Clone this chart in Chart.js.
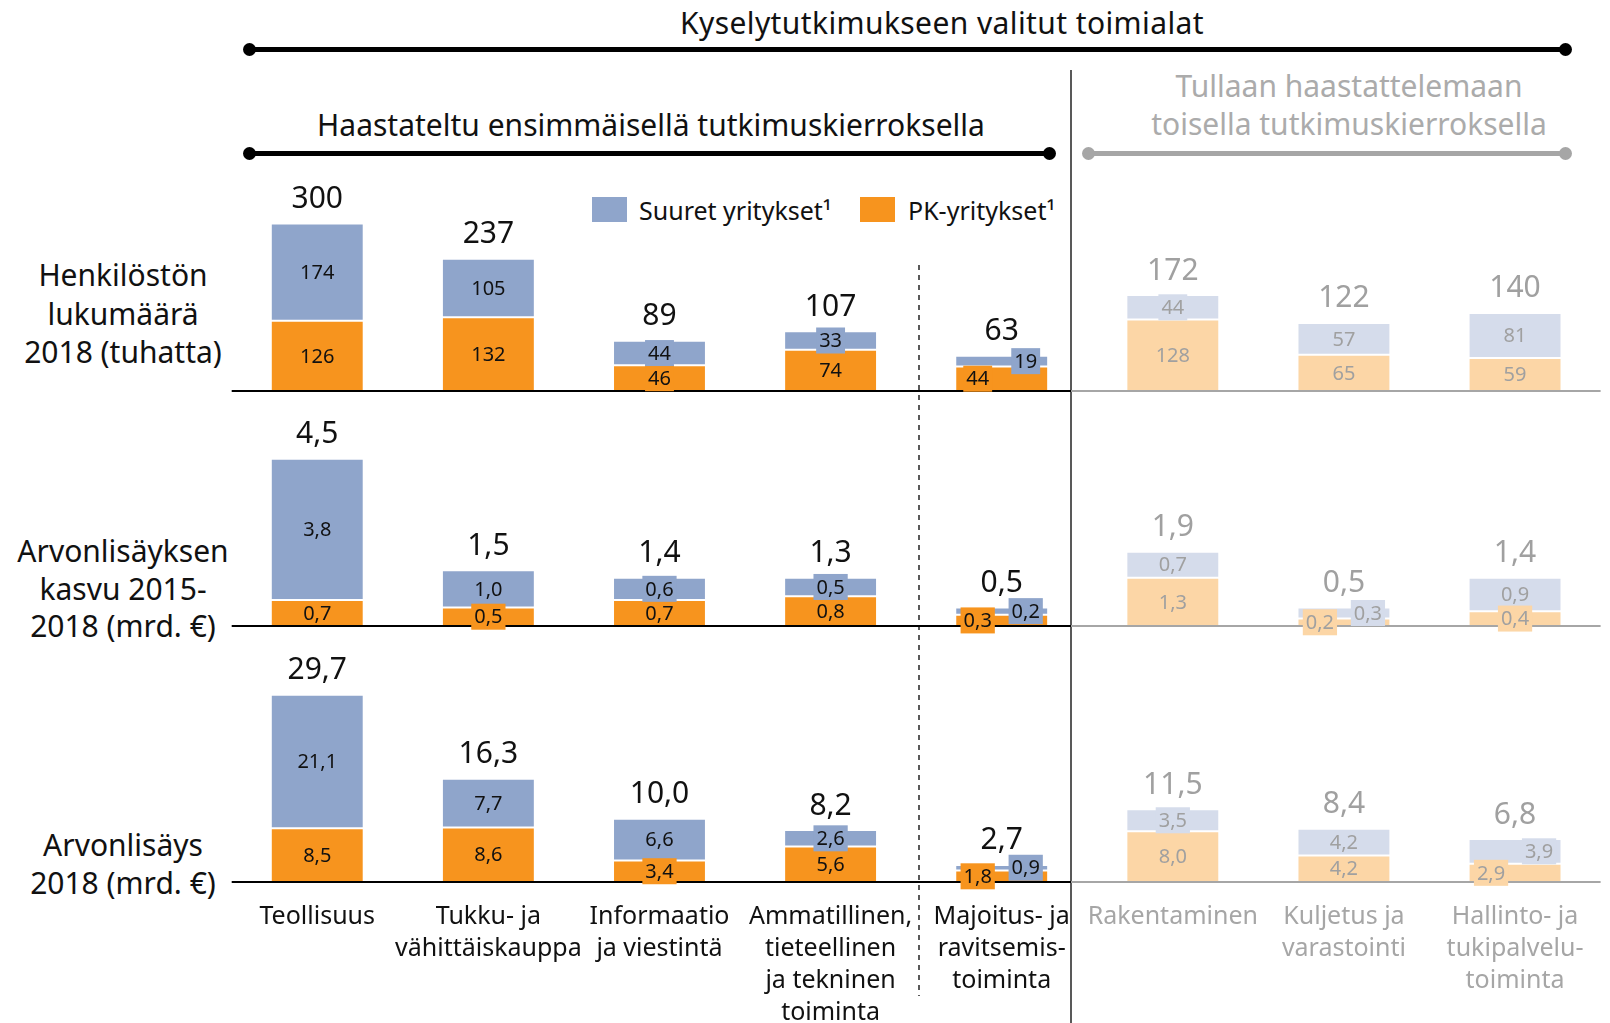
<!DOCTYPE html>
<html><head><meta charset="utf-8">
<script src="https://cdn.jsdelivr.net/npm/chart.js@4"></script>
<style>
html,body{margin:0;padding:0;background:#fff;}
body{width:1610px;height:1023px;position:relative;overflow:hidden;font-family:"Noto Sans",sans-serif;color:#111;}
canvas{position:absolute;left:0;}
.t{position:absolute;text-align:center;white-space:nowrap;}
.hl{position:absolute;height:5px;}
.dot{position:absolute;width:13px;height:13px;border-radius:50%;}
.sq{position:absolute;width:35px;height:25px;}
</style>
</head><body>
<div class="t" style="left:542px;width:800px;top:3px;font-size:30px;line-height:40px;letter-spacing:0.4px;">Kyselytutkimukseen valitut toimialat</div>
<div class="hl" style="left:250px;width:1315px;top:46.5px;background:#000;"></div>
<div class="dot" style="left:243px;top:42.5px;background:#000;"></div>
<div class="dot" style="left:1558.5px;top:42.5px;background:#000;"></div>

<div class="t" style="left:251px;width:800px;top:105px;font-size:30px;line-height:40px;">Haastateltu ensimmäisellä tutkimuskierroksella</div>
<div class="hl" style="left:250px;width:799px;top:150.5px;background:#000;"></div>
<div class="dot" style="left:243px;top:146.5px;background:#000;"></div>
<div class="dot" style="left:1042.5px;top:146.5px;background:#000;"></div>

<div class="t" style="left:1149px;width:400px;top:67px;font-size:30px;line-height:38px;color:#ABABAB;">Tullaan haastattelemaan<br>toisella tutkimuskierroksella</div>
<div class="hl" style="left:1088px;width:477px;top:150.5px;background:#A6A6A6;"></div>
<div class="dot" style="left:1081.5px;top:146.5px;background:#A6A6A6;"></div>
<div class="dot" style="left:1558.5px;top:146.5px;background:#A6A6A6;"></div>

<div style="position:absolute;left:1070px;top:70px;width:2px;height:953px;background:#595959;"></div>
<div style="position:absolute;left:918px;top:265px;width:2px;height:731px;background:repeating-linear-gradient(to bottom,#595959 0 5px,transparent 5px 10px);"></div>

<div class="sq" style="left:592px;top:197px;background:#8FA5CB;"></div>
<div class="t" style="left:639px;top:193px;font-size:25px;line-height:34px;text-align:left;">Suuret yritykset¹</div>
<div class="sq" style="left:860px;top:197px;background:#F7941E;"></div>
<div class="t" style="left:908px;top:193px;font-size:25px;line-height:34px;text-align:left;">PK-yritykset¹</div>

<div class="t" style="left:3px;width:240px;top:256px;font-size:30px;line-height:38.5px;">Henkilöstön<br>lukumäärä<br>2018 (tuhatta)</div>
<div class="t" style="left:3px;width:240px;top:532px;font-size:30px;line-height:37.5px;">Arvonlisäyksen<br>kasvu 2015-<br>2018 (mrd. €)</div>
<div class="t" style="left:3px;width:240px;top:826px;font-size:30px;line-height:38px;">Arvonlisäys<br>2018 (mrd. €)</div>

<canvas id="c1" width="1610" height="246" style="top:160px"></canvas>
<canvas id="c2" width="1610" height="241" style="top:400px"></canvas>
<canvas id="c3" width="1610" height="383" style="top:640px"></canvas>

<script>
const categories = [
  "Teollisuus",
  ["Tukku- ja", "vähittäiskauppa"],
  ["Informaatio", "ja viestintä"],
  ["Ammatillinen,", "tieteellinen", "ja tekninen", "toiminta"],
  ["Majoitus- ja", "ravitsemis-", "toiminta"],
  "Rakentaminen",
  ["Kuljetus ja", "varastointi"],
  ["Hallinto- ja", "tukipalvelu-", "toiminta"]
];
const henkPK      = [126, 132, 46, 74, 44, 128, 65, 59];
const henkSuuret  = [174, 105, 44, 33, 19, 44, 57, 81];
const henkTotal   = [300, 237, 89, 107, 63, 172, 122, 140];
const kasvuPK     = [0.7, 0.5, 0.7, 0.8, 0.3, 1.3, 0.2, 0.4];
const kasvuSuuret = [3.8, 1.0, 0.6, 0.5, 0.2, 0.7, 0.3, 0.9];
const kasvuTotal  = [4.5, 1.5, 1.4, 1.3, 0.5, 1.9, 0.5, 1.4];
const avPK        = [8.5, 8.6, 3.4, 5.6, 1.8, 8.0, 4.2, 2.9];
const avSuuret    = [21.1, 7.7, 6.6, 2.6, 0.9, 3.5, 4.2, 3.9];
const avTotal     = [29.7, 16.3, 10.0, 8.2, 2.7, 11.5, 8.4, 6.8];

const FIRST_ROUND = 5;          // categories before this index are in the first round
const SEP_X = 1071;
const C_OR = '#F7941E', C_OR_L = '#FCD6A6', C_BL = '#8FA5CB', C_BL_L = '#D5DCEB';
const TXT = '#111111', TXT_L = '#A0A0A0';

Chart.defaults.font.family = "'Noto Sans', sans-serif";

const annot = {
  id: 'annot',
  afterDatasetsDraw(chart) {
    const o = chart.options.plugins.annot;
    const ctx = chart.ctx, ca = chart.chartArea;
    const y0 = chart.scales.y.getPixelForValue(0);
    ctx.save();
    ctx.fillStyle = '#000';
    ctx.fillRect(ca.left, y0 - 1, SEP_X - ca.left, 2);
    ctx.fillStyle = '#A6A6A6';
    ctx.fillRect(SEP_X, y0 - 1, ca.right - SEP_X, 2);
    const fmt = v => o.dec ? v.toFixed(o.dec).replace('.', ',') : String(v);
    ctx.textAlign = 'center';
    ctx.textBaseline = 'middle';
    [0, 1].forEach(d => {
      const meta = chart.getDatasetMeta(d);
      const ds = chart.data.datasets[d];
      meta.data.forEach((el, i) => {
        const faded = i >= FIRST_ROUND;
        const split = o.split.includes(i);
        const x = el.x + (split ? (d === 0 ? -24 : 24) : 0);
        const y = (el.y + el.base) / 2;
        const txt = fmt(ds.data[i]);
        ctx.font = "20px 'Noto Sans', sans-serif";
        const w = ctx.measureText(txt).width + 6;
        const segH = Math.abs(el.base - el.y);
        if (segH < 26) {
          ctx.fillStyle = d === 0 ? (faded ? C_OR_L : C_OR) : (faded ? C_BL_L : C_BL);
          ctx.fillRect(x - w / 2, y - 13, w, 26);
        }
        ctx.fillStyle = faded ? TXT_L : TXT;
        ctx.fillText(txt, x, y + 1);
      });
    });
    const top = chart.getDatasetMeta(1).data;
    ctx.font = "30px 'Noto Sans', sans-serif";
    top.forEach((el, i) => {
      ctx.fillStyle = i >= FIRST_ROUND ? TXT_L : TXT;
      ctx.fillText(fmt(o.totals[i]), el.x, el.y - 24);
    });
    ctx.restore();
  }
};

function makeChart(id, pk, su, totals, max, dec, split, showX) {
  const bg = (c, l) => ctx => ctx.dataIndex >= FIRST_ROUND ? l : c;
  return new Chart(document.getElementById(id), {
    type: 'bar',
    data: {
      labels: categories,
      datasets: [
        { label: 'PK-yritykset', data: pk, backgroundColor: bg(C_OR, C_OR_L), borderColor: '#fff', borderWidth: 1, borderSkipped: false, stack: 's' },
        { label: 'Suuret yritykset', data: su, backgroundColor: bg(C_BL, C_BL_L), borderColor: '#fff', borderWidth: 1, borderSkipped: false, stack: 's' }
      ]
    },
    options: {
      responsive: false,
      animation: false,
      events: [],
      barPercentage: 0.543,
      categoryPercentage: 1,
      layout: { padding: { left: 231.7, right: 9.4, top: 0, bottom: showX ? 0 : 15 } },
      plugins: {
        legend: { display: false },
        tooltip: { enabled: false },
        annot: { totals, dec, split }
      },
      scales: {
        x: {
          stacked: true,
          display: showX,
          grid: { display: false, drawTicks: false },
          border: { display: false },
          ticks: {
            autoSkip: false, maxRotation: 0, minRotation: 0, padding: 19,
            font: { size: 25, lineHeight: 1.28 },
            color: c => c.index >= FIRST_ROUND ? '#A6A6A6' : TXT
          },
          afterFit: s => { if (showX) s.height = 141; }
        },
        y: { stacked: true, display: false, min: 0, max }
      }
    },
    plugins: [annot]
  });
}

makeChart('c1', henkPK, henkSuuret, henkTotal, 300 * 231 / 167.4, 0, [4], false);
makeChart('c2', kasvuPK, kasvuSuuret, kasvuTotal, 4.5 * 226 / 167.3, 1, [4, 6], false);
makeChart('c3', avPK, avSuuret, avTotal, 29.7 * 242 / 188, 1, [4, 7], true);
</script>
</body></html>
